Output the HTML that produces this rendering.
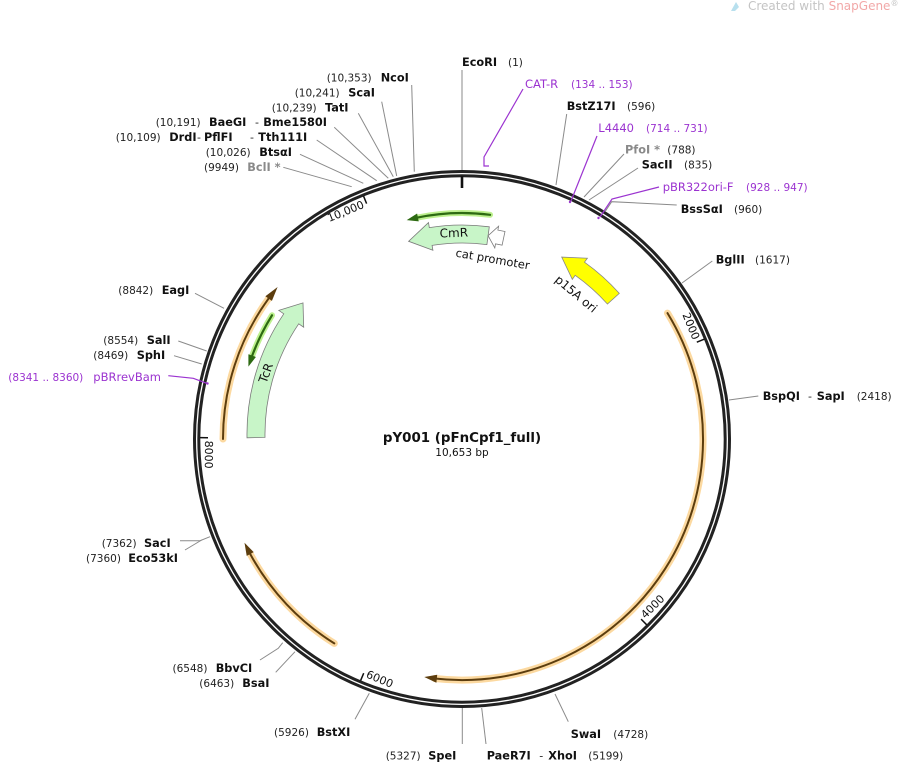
<!DOCTYPE html>
<html><head><meta charset="utf-8"><style>
html,body{margin:0;padding:0;background:#fff;}
svg{display:block;}
text{font-family:"DejaVu Sans","Liberation Sans",sans-serif;}
.n{font-size:10.5px;fill:#222;}
.d{font-size:11px;fill:#222;}
.b{font-size:11.3px;font-weight:bold;fill:#111;}
.g{font-size:11.3px;font-weight:bold;fill:#8a8a8a;}
.p{font-size:11.5px;fill:#9b33d0;}
.pn{font-size:10.5px;fill:#9b33d0;}
.l{stroke:#8a8a8a;stroke-width:1;fill:none;}
.pl{stroke:#9b33d0;stroke-width:1.2;fill:none;}
.t{font-size:11px;fill:#111;}
</style></head><body>
<svg width="898" height="765" viewBox="0 0 898 765" xmlns="http://www.w3.org/2000/svg">
<path d="M731,11 L736,2 L739,7 L735,11 Z" fill="#b8e0ee"/>
<text x="748" y="10" style="font-size:12px;fill:#c4c4c4">Created with <tspan fill="#f2a8a8">SnapGene</tspan><tspan style="font-size:8px" dy="-4">®</tspan></text>

<circle cx="462" cy="439" r="267.5" fill="none" stroke="#222" stroke-width="3"/>
<circle cx="462" cy="439" r="263.2" fill="none" stroke="#222" stroke-width="3"/>
<line x1="462" y1="176" x2="462" y2="188" stroke="#111" stroke-width="2.6"/>

<line x1="704.2" y1="339.2" x2="696.8" y2="342.2" stroke="#111" stroke-width="1.5"/>
<line x1="646.7" y1="624.8" x2="641.1" y2="619.1" stroke="#111" stroke-width="1.5"/>
<line x1="360.6" y1="680.6" x2="363.7" y2="673.2" stroke="#111" stroke-width="1.5"/>
<line x1="200" y1="437.6" x2="208" y2="437.7" stroke="#111" stroke-width="1.5"/>
<line x1="363.6" y1="196.2" x2="366.6" y2="203.6" stroke="#111" stroke-width="1.5"/>
<g transform="translate(462,439)">
<text class="t" transform="rotate(67.59)" x="-3" y="-251" text-anchor="end">2000</text>
<text class="t" transform="rotate(-44.83)" x="3" y="257" text-anchor="start">4000</text>
<text class="t" transform="rotate(22.76)" x="3" y="257" text-anchor="start">6000</text>
<text class="t" transform="rotate(90.3)" x="3" y="257" text-anchor="start">8000</text>
<text class="t" transform="rotate(-22.07)" x="-3" y="-251" text-anchor="end">10,000</text>
</g>

<g fill="none" stroke-linecap="round">
<path d="M667.5,313.1 A241,241 0 0 1 434.7,678.5" stroke="#fcd9a0" stroke-width="7"/>
<path d="M334.3,643.4 A241,241 0 0 1 250.2,554" stroke="#fcd9a0" stroke-width="7"/>
<path d="M223,439 A239,239 0 0 1 268.6,298.5" stroke="#fcd9a0" stroke-width="7"/>
<path d="M667.5,313.1 A241,241 0 0 1 434.7,678.5" stroke="#5c3d0e" stroke-width="2"/>
<path d="M334.3,643.4 A241,241 0 0 1 250.2,554" stroke="#5c3d0e" stroke-width="2"/>
<path d="M223,439 A239,239 0 0 1 268.6,298.5" stroke="#5c3d0e" stroke-width="2"/>
</g>
<polygon points="437.2,674.7 436.4,682.7 424.3,677" fill="#5c3d0e"/>
<polygon points="253.7,552.1 246.7,555.9 244.5,542.8" fill="#5c3d0e"/>
<polygon points="271.9,300.9 265.4,296.2 277.6,287" fill="#5c3d0e"/>

<g fill="none" stroke-linecap="round">
<path d="M490.1,214.8 A221,221 0 0 0 416.1,217.8" stroke="#bdf08e" stroke-width="6"/>
<path d="M272,315.3 A224,224 0 0 0 252.2,355.6" stroke="#bdf08e" stroke-width="6"/>
<path d="M490.1,214.8 A221,221 0 0 0 416.1,217.8" stroke="#2d6a12" stroke-width="2.2"/>
<path d="M272,315.3 A224,224 0 0 0 252.2,355.6" stroke="#2d6a12" stroke-width="2.2"/>
</g>
<polygon points="418.7,221.4 417.1,213.5 406.7,220.1" fill="#2d6a12"/>
<polygon points="255.9,357 248.4,354.2 248.4,366.6" fill="#2d6a12"/>

<path d="M489.3,226.8 A209,209 0 0 0 429.3,227.6 L428.5,222.6 L408.6,241.3 L432.9,250.3 L432.1,245.4 A191,191 0 0 1 486.9,244.6 Z" fill="#c8f5c8" stroke="#7a7a7a" stroke-width="0.8"/>
<text x="454" y="237" text-anchor="middle" transform="rotate(-2,454,237)" style="font-size:12px;fill:#111">CmR</text>
<path d="M505,231.5 L497.9,230.1 L498.6,226.2 L488.1,235.7 L494.8,247.9 L495.5,243.9 L502.1,245.2 Z" fill="#fff" stroke="#7a7a7a" stroke-width="0.8"/>
<text x="492" y="263" text-anchor="middle" transform="rotate(10,492,263)" style="font-size:11.5px;fill:#111">cat promoter</text>
<path d="M619.3,293.4 A211,211 0 0 0 584.5,262.2 L587.4,258.2 L561.7,257.1 L572.3,279.3 L575.2,275.3 A195,195 0 0 1 607.4,304 Z" fill="#ffff00" stroke="#888" stroke-width="0.8"/>
<text x="576" y="298" text-anchor="middle" transform="rotate(40,576,294)" style="font-size:12px;fill:#111">p15A ori</text>
<path d="M247,437.8 A215,215 0 0 1 283.8,313.8 L278.8,310.4 L303,302.9 L303.7,327.2 L298.7,323.8 A197,197 0 0 0 265,437.4 Z" fill="#c8f5c8" stroke="#7a7a7a" stroke-width="0.8"/>
<text x="266" y="377" text-anchor="middle" transform="rotate(-70,266,373)" style="font-size:12px;fill:#111">TcR</text>

<text x="462" y="442" text-anchor="middle" style="font-size:13.4px;font-weight:bold;fill:#111">pY001 (pFnCpf1_full)</text>
<text x="462" y="456" text-anchor="middle" style="font-size:10.5px;fill:#111">10,653 bp</text>

<line class="l" x1="462" y1="70" x2="462" y2="170"/>
<polyline class="pl" points="523,89 484,157 484,166 489,166"/>
<line class="l" x1="566.7" y1="114" x2="556" y2="185"/>
<polyline class="pl" points="597,136 571,201"/>
<circle cx="570" cy="202" r="1.2" fill="#9b33d0"/>
<line class="l" x1="624" y1="154" x2="584" y2="197"/>
<line class="l" x1="638" y1="168" x2="589" y2="200"/>
<polyline class="pl" points="659,187 612,199 600,217"/>
<circle cx="598.5" cy="218" r="1.2" fill="#9b33d0"/>
<polyline class="l" points="676.7,205 611.7,201.7 605,211.7"/>
<line class="l" x1="712.3" y1="261" x2="682" y2="283"/>
<line class="l" x1="758.3" y1="396" x2="729" y2="400"/>
<line class="l" x1="568.3" y1="721.7" x2="555" y2="694"/>
<line class="l" x1="486" y1="744" x2="481.7" y2="708"/>
<line class="l" x1="462.3" y1="744" x2="462.3" y2="708"/>
<line class="l" x1="355" y1="719.3" x2="369.3" y2="693.3"/>
<line class="l" x1="275.7" y1="672.3" x2="295" y2="651.7"/>
<polyline class="l" points="260,660 278.3,648.3 282.7,642.7"/>
<polyline class="l" points="180,540.7 200,540.7 210,536.7"/>
<line class="l" x1="185" y1="550" x2="201.7" y2="540"/>
<polyline class="pl" points="168.3,375.7 193.3,378.3 206.7,383.3"/>
<circle cx="207.5" cy="383.5" r="1.2" fill="#9b33d0"/>
<line class="l" x1="174" y1="355.7" x2="201.7" y2="364"/>
<line class="l" x1="178.3" y1="341" x2="206.7" y2="351"/>
<line class="l" x1="195" y1="293.3" x2="224" y2="308.3"/>
<line class="l" x1="283.3" y1="167.3" x2="351.7" y2="186.7"/>
<line class="l" x1="300" y1="154.3" x2="363.3" y2="183.3"/>
<line class="l" x1="316.7" y1="140" x2="376.7" y2="180.7"/>
<line class="l" x1="334.3" y1="127.3" x2="388.3" y2="178.3"/>
<line class="l" x1="358.3" y1="113.3" x2="393.3" y2="176.7"/>
<line class="l" x1="381.7" y1="101.7" x2="396.7" y2="176"/>
<line class="l" x1="411.7" y1="85" x2="414.3" y2="171.7"/>

<text class="b" x="462" y="66">EcoRI</text><text class="n" x="508" y="66">(1)</text>
<text class="p" x="525" y="88">CAT-R</text><text class="pn" x="571" y="88">(134 .. 153)</text>
<text class="b" x="566.7" y="110">BstZ17I</text><text class="n" x="627" y="110">(596)</text>
<text class="p" x="598.3" y="132">L4440</text><text class="pn" x="646" y="132">(714 .. 731)</text>
<text class="g" x="625" y="153.5">PfoI *</text><text class="n" x="667.3" y="153.5">(788)</text>
<text class="b" x="641.7" y="168.5">SacII</text><text class="n" x="684" y="168.5">(835)</text>
<text class="p" x="662.7" y="191">pBR322ori-F</text><text class="pn" x="746" y="191">(928 .. 947)</text>
<text class="b" x="680.7" y="213">BssSαI</text><text class="n" x="734" y="213">(960)</text>
<text class="b" x="715.7" y="263.5">BglII</text><text class="n" x="755" y="263.5">(1617)</text>
<text class="b" x="762.7" y="400">BspQI</text><text class="d" x="808" y="400">-</text><text class="b" x="816.7" y="400">SapI</text><text class="n" x="856.7" y="400">(2418)</text>
<text class="b" x="570.7" y="738">SwaI</text><text class="n" x="613.3" y="738">(4728)</text>
<text class="b" x="486.7" y="759.5">PaeR7I</text><text class="d" x="539.3" y="759.5">-</text><text class="b" x="548.3" y="759.5">XhoI</text><text class="n" x="588.3" y="759.5">(5199)</text>
<text class="n" x="385.7" y="759.5">(5327)</text><text class="b" x="428.3" y="759.5">SpeI</text>
<text class="n" x="274" y="736">(5926)</text><text class="b" x="316.7" y="736">BstXI</text>
<text class="n" x="199.3" y="687">(6463)</text><text class="b" x="242.3" y="687">BsaI</text>
<text class="n" x="172.5" y="672">(6548)</text><text class="b" x="215.7" y="672">BbvCI</text>
<text class="n" x="101.7" y="547">(7362)</text><text class="b" x="144" y="547">SacI</text>
<text class="n" x="86" y="562">(7360)</text><text class="b" x="128.3" y="562">Eco53kI</text>
<text class="pn" x="8.3" y="381">(8341 .. 8360)</text><text class="p" x="93.3" y="381">pBRrevBam</text>
<text class="n" x="93.3" y="359">(8469)</text><text class="b" x="136.7" y="359">SphI</text>
<text class="n" x="103.3" y="344">(8554)</text><text class="b" x="146.7" y="344">SalI</text>
<text class="n" x="118.3" y="294">(8842)</text><text class="b" x="161.7" y="294">EagI</text>
<text class="n" x="204" y="171">(9949)</text><text class="g" x="247.3" y="171">BclI *</text>
<text class="n" x="205.7" y="156">(10,026)</text><text class="b" x="259.3" y="156">BtsαI</text>
<text class="n" x="115.7" y="141">(10,109)</text><text class="b" x="169.3" y="141">DrdI</text><text class="d" x="197" y="141">-</text><text class="b" x="204" y="141">PflFI</text><text class="d" x="250" y="141">-</text><text class="b" x="258.3" y="141">Tth111I</text>
<text class="n" x="155.7" y="126">(10,191)</text><text class="b" x="209" y="126">BaeGI</text><text class="d" x="255" y="126">-</text><text class="b" x="263.3" y="126">Bme1580I</text>
<text class="n" x="271.7" y="111.5">(10,239)</text><text class="b" x="325" y="111.5">TatI</text>
<text class="n" x="294.7" y="96.5">(10,241)</text><text class="b" x="348.3" y="96.5">ScaI</text>
<text class="n" x="326.7" y="81.5">(10,353)</text><text class="b" x="380.7" y="81.5">NcoI</text>
</svg>
</body></html>
